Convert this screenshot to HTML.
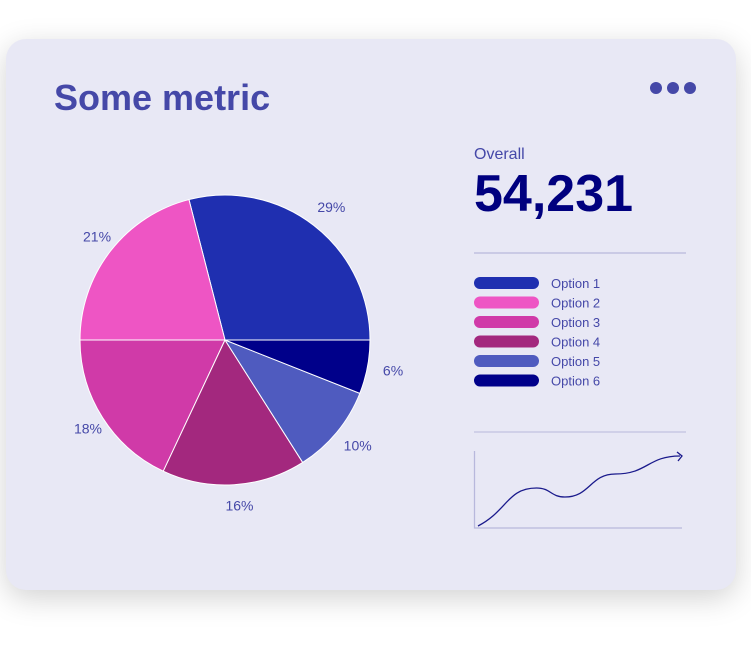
<!DOCTYPE html>
<html><head><meta charset="utf-8"><style>
html,body{margin:0;padding:0;width:751px;height:645px;background:#fff;overflow:hidden;font-family:"Liberation Sans",sans-serif}
#card{position:absolute;left:6px;top:39px;width:730px;height:551px;background:#e8e8f5;border-radius:20px;box-shadow:0 8px 30px rgba(0,0,0,0.18)}
</style></head><body>
<div id="card"></div>
<svg id="chart" width="751" height="645" style="position:absolute;left:0;top:0">
<text x="54" y="110" font-size="36" font-weight="bold" fill="#4548a8">Some metric</text>
<g fill="#4548a8"><circle cx="656" cy="88" r="6"/><circle cx="673" cy="88" r="6"/><circle cx="690" cy="88" r="6"/></g>
<text x="474" y="159" font-size="16" fill="#4548a8">Overall</text>
<text x="474" y="211" font-size="52" font-weight="bold" fill="#00007f">54,231</text>
<line x1="474" y1="253" x2="686" y2="253" stroke="#b8b8dc" stroke-width="1.2"/>
<line x1="474" y1="432" x2="686" y2="432" stroke="#c8c8e4" stroke-width="1.5"/>
<g id="pie"></g><g id="legend"></g><g id="spark"></g>
</svg>
<script>
const categories=["Option 1","Option 2","Option 3","Option 4","Option 5","Option 6"];
const values=[29,21,18,16,10,6];
const labels=["29%","21%","18%","16%","10%","6%"];
const colors=["#1f2fb0","#ee55c4","#d03aa8","#a3287e","#4f5bbf","#00008a"];
const sparkValues=[0,38,29,52,70];
const NS="http://www.w3.org/2000/svg";
const cx=225,cy=340,r=145;
const total=values.reduce((a,b)=>a+b,0);
const pie=document.getElementById('pie');
let a0=0;
function pt(a,rr){return [cx+rr*Math.cos(a),cy-rr*Math.sin(a)];}
values.forEach((v,i)=>{
  const a1=a0+v/total*2*Math.PI;
  const p0=pt(a0,r),p1=pt(a1,r);
  const large=(a1-a0)>Math.PI?1:0;
  const p=document.createElementNS(NS,'path');
  p.setAttribute('d',`M${cx},${cy}L${p0[0]},${p0[1]}A${r},${r} 0 ${large} 0 ${p1[0]},${p1[1]}Z`);
  p.setAttribute('fill',colors[i]);p.setAttribute('stroke','#fff');p.setAttribute('stroke-width','1');
  
  
  pie.appendChild(p);
  const am=(a0+a1)/2;const lp=pt(am,r+22);
  const t=document.createElementNS(NS,'text');
  t.setAttribute('x',lp[0]+4);t.setAttribute('y',lp[1]+4);t.setAttribute('text-anchor','middle');
  t.setAttribute('font-size','14');t.setAttribute('fill','#4548a8');t.textContent=labels[i];
  
  
  pie.appendChild(t);
  a0=a1;
});
const lg=document.getElementById('legend');
categories.forEach((c,i)=>{
  const y=283+i*19.5;
  const rc=document.createElementNS(NS,'rect');
  rc.setAttribute('x',474);rc.setAttribute('y',y-6);rc.setAttribute('width',65);rc.setAttribute('height',12);rc.setAttribute('rx',6);rc.setAttribute('fill',colors[i]);
  
  
  lg.appendChild(rc);
  const t=document.createElementNS(NS,'text');
  t.setAttribute('x',551);t.setAttribute('y',y+5);t.setAttribute('font-size','13');t.setAttribute('fill','#4548a8');t.textContent=c;
  
  
  lg.appendChild(t);
});
const sp=document.getElementById('spark');
const x0=478,x1=680,yb=526,yt=456;
const ax=document.createElementNS(NS,'path');
ax.setAttribute('d','M474.5,451V528H682');ax.setAttribute('fill','none');ax.setAttribute('stroke','#b8b8dc');ax.setAttribute('stroke-width','1.3');


sp.appendChild(ax);
const xs=[0,0.29,0.43,0.68,1].map(f=>x0+f*(x1-x0));
const ys=sparkValues.map(v=>yb-v/70*(yb-yt));
let d=`M${xs[0]},${ys[0]}`;
for(let i=1;i<xs.length;i++){const mx=(xs[i-1]+xs[i])/2;d+=`C${mx},${ys[i-1]-(i==1?15:0)} ${mx},${ys[i]} ${xs[i]},${ys[i]}`;}
const ln=document.createElementNS(NS,'path');
ln.setAttribute('d',d);ln.setAttribute('fill','none');ln.setAttribute('stroke','#1a1a8c');ln.setAttribute('stroke-width','1.3');


sp.appendChild(ln);
const ar=document.createElementNS(NS,'path');
const ex=xs[xs.length-1]+2,ey=ys[ys.length-1];
ar.setAttribute('d',`M${ex-5},${ey-4}L${ex},${ey}L${ex-4},${ey+5}`);ar.setAttribute('fill','none');ar.setAttribute('stroke','#1a1a8c');ar.setAttribute('stroke-width','1.3');


sp.appendChild(ar);
</script>
</body></html>
